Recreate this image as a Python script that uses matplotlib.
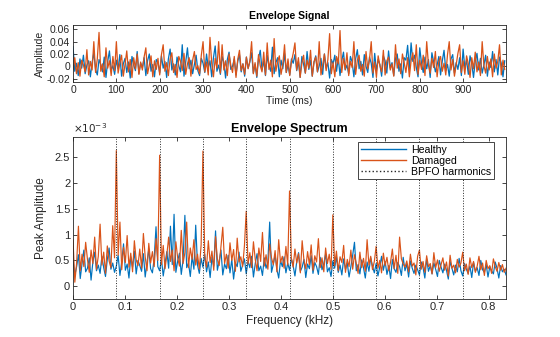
import numpy as np
import matplotlib
matplotlib.use('Agg')
from matplotlib import pyplot as plt
from matplotlib.ticker import FuncFormatter

plt.rcParams['font.family'] = ['Liberation Sans', 'DejaVu Sans']
plt.rcParams['axes.unicode_minus'] = False

BLUE = '#0072BD'
ORANGE = '#D95319'
AX = '#262626'

# envelope signal, thousandths of a unit, one sample every 4 ms
healthy_env = [
    32, -8, 5, -15, 12, -3, 18, -12, 2, 9, -17, 6, 22, -5, -14, 11, 3, -9, 15, -18, 8, 25, -6, 1, -13,
    10, -4, 19, -16, 4, 13, -10, 7, -19, 16, 2, -7, 24, -12, 5, -2, 14, -15, 9, 20, -8, 3, -17, 11, 6,
    -11, 17, -3, 8, -18, 12, 28, -6, 4, -14, 15, 1, -9, 35, -16, 7, 30, -4, 10, -12, 3, 18, -7, -15, 13,
    5, -10, 20, -2, 9, -17, 14, 33, -8, 2, -13, 16, 6, -19, 11, 23, -5, 0, 12, -14, 8, 19, -9, 4, -16,
    15, -3, 7, 22, -11, 3, -18, 13, 26, -6, 9, -15, 18, 1, -8, 31, -12, 6, 14, -17, 10, -4, 21, -10, 2,
    -14, 12, 5, 19, -7, 8, -18, 16, 3, -11, 24, -5, 10, -16, 7, 17, -9, 1, 13, -13, 20, -3, 6, -19, 11,
    4, 18, -8, 14, -15, 9, 23, -6, 2, -12, 16, 7, -17, 12, 27, -4, 8, -14, 19, 0, -10, 15, 5, -18, 21,
    -7, 11, 3, -16, 17, 9, -11, 25, -3, 6, -15, 13, 20, -8, 4, -19, 14, 10, 34, -6, 38, 8, 18, -2, -17,
    30, 5, -10, 15, -4, 11, -18, 22, 7, -9, 2, 16, -14, 9, 26, -7, 3, -16, 12, 19, -11, 6, -5, 14, -15,
    28, -3, 10, -13, 17, 4, -18, 8, 21, -6, 13, -11, 2, 18, -16, 7, -2, 24, -9, 11, -14, 15, 5, -17, 9,
]
damaged_env = [
    -5, 14, -12, 6, -16, 10, 2, -9, 27, -14, 8, -6, 40, -10, 12, 55, -8, 4, -17, 30, -3, 9, -15, 16, -7,
    40, -11, 5, 18, -16, 3, 25, -9, 11, -18, 14, -4, 20, -13, 7, -6, 15, 30, -12, 2, 17, -17, 9, -5, 13,
    -14, 19, 35, -8, 6, -15, 12, 22, -10, 3, -18, 16, 8, -7, 21, -13, 4, 14, -16, 10, 24, -5, 1, -12, 18,
    40, -9, 7, -14, 47, 5, -17, 13, -3, 40, -11, 35, -6, 9, -15, 20, 2, -10, 16, -18, 11, 26, -7, 4, -13,
    15, -4, 9, 40, -12, 6, -16, 19, 1, -9, 23, -14, 38, -5, 10, -17, 45, -8, 7, 17, -13, 3, 35, -10, 12,
    -15, 8, 21, 38, -6, 14, -18, 5, 18, -11, 10, -3, 26, -16, 7, 15, -9, 40, -14, 2, 20, -7, 11, 53, -12,
    6, -17, 16, 4, 58, -10, 13, -5, 22, -15, 8, -2, 40, -13, 10, 18, -8, 3, -16, 24, -4, 11, 40, -11, 7,
    -18, 17, 1, -9, 26, -14, 9, 15, -6, 4, -16, 35, -3, 12, -12, 20, 6, -10, 14, -17, 9, 22, -7, 35, -13,
    10, -5, 18, -15, 40, 3, -11, 13, -2, 24, -17, 8, 16, -8, 5, -14, 19, 40, -6, 11, -16, 2, 21, 35, -10,
    9, -13, 17, 4, -18, 14, -4, 23, -9, 7, -15, 40, 1, -11, 16, -6, 12, -17, 20, -3, 8, 35, -14, 10, -5,
]

# envelope spectrum, units of 1e-5, 241 bins from 0 to 0.8333 kHz
healthy_spec = [
    50, 22, 38, 61, 15, 44, 70, 28, 35, 55, 12, 47, 66, 30, 41, 25, 58, 36, 19, 52, 74, 33, 45, 27,
    39, 60, 21, 48, 82, 31, 43, 16, 57, 37, 68, 24, 50, 40, 29, 63, 18, 46, 72, 34, 26, 55, 115, 38,
    30, 53, 20, 44, 67, 35, 116, 42, 139, 27, 49, 64, 23, 51, 137, 36, 45, 19, 58, 33, 118, 41, 25, 54,
    37, 62, 28, 47, 17, 56, 39, 107, 31, 48, 70, 22, 43, 34, 60, 26, 52, 14, 45, 38, 66, 29, 41, 53,
    24, 49, 36, 58, 18, 44, 63, 30, 39, 21, 55, 35, 47, 124, 27, 42, 61, 33, 16, 50, 38, 57, 26, 45,
    31, 54, 40, 20, 48, 65, 29, 37, 52, 17, 43, 34, 59, 25, 46, 38, 23, 56, 32, 44, 62, 28, 36, 19,
    49, 35, 57, 27, 41, 22, 53, 33, 45, 18, 38, 60, 85, 30, 42, 24, 51, 36, 16, 47, 29, 55, 39, 26,
    44, 20, 37, 58, 31, 48, 23, 40, 15, 52, 34, 27, 46, 38, 21, 56, 30, 43, 18, 49, 35, 25, 41, 32,
    22, 47, 36, 16, 53, 29, 40, 24, 45, 33, 19, 50, 37, 26, 43, 31, 14, 48, 35, 22, 41, 28, 54, 30,
    20, 44, 33, 25, 39, 17, 46, 29, 36, 21, 50, 32, 27, 42, 18, 38, 30, 24, 47, 35, 16, 40, 28, 33,
    22,
]
damaged_spec = [
    90, 8, 45, 116, 30, 62, 38, 85, 52, 27, 70, 44, 95, 33, 58, 120, 41, 66, 25, 78, 49, 36, 117, 55,
    262, 60, 124, 32, 75, 46, 98, 37, 64, 28, 88, 51, 40, 72, 35, 102, 57, 30, 83, 45, 67, 38, 92, 50,
    253, 42, 79, 34, 61, 95, 48, 70, 30, 86, 55, 39, 108, 44, 65, 124, 36, 74, 52, 90, 41, 62, 33, 80,
    261, 58, 37, 88, 46, 68, 31, 96, 53, 40, 76, 114, 44, 62, 35, 84, 50, 71, 29, 93, 47, 57, 38, 78,
    145, 43, 65, 36, 86, 52, 30, 74, 48, 104, 39, 61, 33, 82, 55, 42, 69, 28, 90, 46, 58, 35, 77, 41,
    184, 54, 37, 72, 45, 63, 26, 88, 50, 34, 67, 42, 80, 31, 59, 47, 92, 36, 55, 28, 74, 44, 62, 33,
    138, 40, 68, 30, 57, 46, 79, 27, 52, 38, 70, 33, 61, 44, 25, 66, 36, 54, 29, 90, 41, 58, 32, 48,
    77, 35, 50, 26, 64, 40, 56, 30, 47, 72, 34, 60, 25, 95, 53, 43, 37, 49, 28, 62, 39, 45, 22, 58,
    70, 33, 48, 27, 59, 38, 44, 24, 65, 36, 51, 29, 42, 55, 31, 47, 20, 60, 35, 41, 26, 52, 37, 45,
    66, 30, 43, 23, 55, 36, 48, 27, 39, 58, 32, 45, 21, 50, 34, 40, 25, 53, 38, 29, 46, 31, 42, 27,
    35,
]

bpfo_harmonics = [0.08333, 0.16667, 0.25, 0.33333, 0.41667, 0.5, 0.58333, 0.66667, 0.75]

t = np.arange(len(healthy_env)) * 4.0
f = np.linspace(0, 0.83333, len(healthy_spec))
h_env = np.array(healthy_env) / 1000.0
d_env = np.array(damaged_env) / 1000.0
h_spec = np.array(healthy_spec) / 1e5
d_spec = np.array(damaged_spec) / 1e5


def style_axes(ax, size):
    for s in ax.spines.values():
        s.set_color(AX)
        s.set_linewidth(0.6)
    ax.tick_params(direction='in', top=True, right=True, length=3, width=0.6,
                   colors=AX, labelsize=size, pad=2)


fig = plt.figure(figsize=(5.6, 3.37), dpi=100)

ax1 = fig.add_axes([0.1304, 0.7567, 0.7732, 0.1691])
ax1.plot(t, h_env, color=BLUE, linewidth=0.9)
ax1.plot(t, d_env, color=ORANGE, linewidth=0.9)
ax1.set_xlim(0, 999)
ax1.set_ylim(-0.0254, 0.067)
ax1.set_xticks(np.arange(0, 1000, 100))
ax1.set_yticks([-0.02, 0, 0.02, 0.04, 0.06])
ax1.yaxis.set_major_formatter(FuncFormatter(lambda v, p: '%g' % round(v, 4)))
style_axes(ax1, 7.5)
ax1.set_xlabel('Time (ms)', fontsize=7.5, color=AX, labelpad=1)
ax1.set_ylabel('Amplitude', fontsize=7.5, color=AX, labelpad=1)
ax1.set_title('Envelope Signal', fontsize=7.5, fontweight='bold', color='black', pad=4)

ax2 = fig.add_axes([0.1304, 0.1119, 0.7732, 0.4807])
ax2.plot(f, h_spec, color=BLUE, linewidth=0.85, label='Healthy')
ax2.plot(f, d_spec, color=ORANGE, linewidth=0.85, label='Damaged')
for i, fh in enumerate(bpfo_harmonics):
    ax2.axvline(fh, color=AX, linestyle=':', linewidth=0.7,
                label='BPFO harmonics' if i == 0 else None)
ax2.set_xlim(0, 0.8333)
ax2.set_ylim(-0.25e-3, 2.876e-3)
ax2.set_xticks(np.arange(0, 0.81, 0.1))
ax2.set_yticks(np.arange(0, 2.6e-3, 0.5e-3))
ax2.xaxis.set_major_formatter(FuncFormatter(lambda v, p: '%g' % round(v, 3)))
ax2.yaxis.set_major_formatter(FuncFormatter(lambda v, p: '%g' % round(v * 1e3, 3)))
style_axes(ax2, 8)
ax2.text(0, 1.015, r'$\times10^{-3}$', transform=ax2.transAxes, fontsize=7.5,
         color=AX, ha='left', va='bottom')
ax2.set_xlabel('Frequency (kHz)', fontsize=8.5, color=AX, labelpad=2)
ax2.set_ylabel('Peak Amplitude', fontsize=8.5, color=AX, labelpad=6)
ax2.set_title('Envelope Spectrum', fontsize=9, fontweight='bold', color='black', pad=4)

leg = ax2.legend(loc='upper right', bbox_to_anchor=(0.98, 0.99), fontsize=7.6,
                 handlelength=4.3, handletextpad=0.5, borderpad=0.25, labelspacing=0.1,
                 borderaxespad=0.3, fancybox=False, framealpha=1, edgecolor=AX)
leg.get_frame().set_linewidth(0.6)
for line in leg.get_lines():
    line.set_linewidth(1.0)

plt.savefig('out.png', dpi=100)
